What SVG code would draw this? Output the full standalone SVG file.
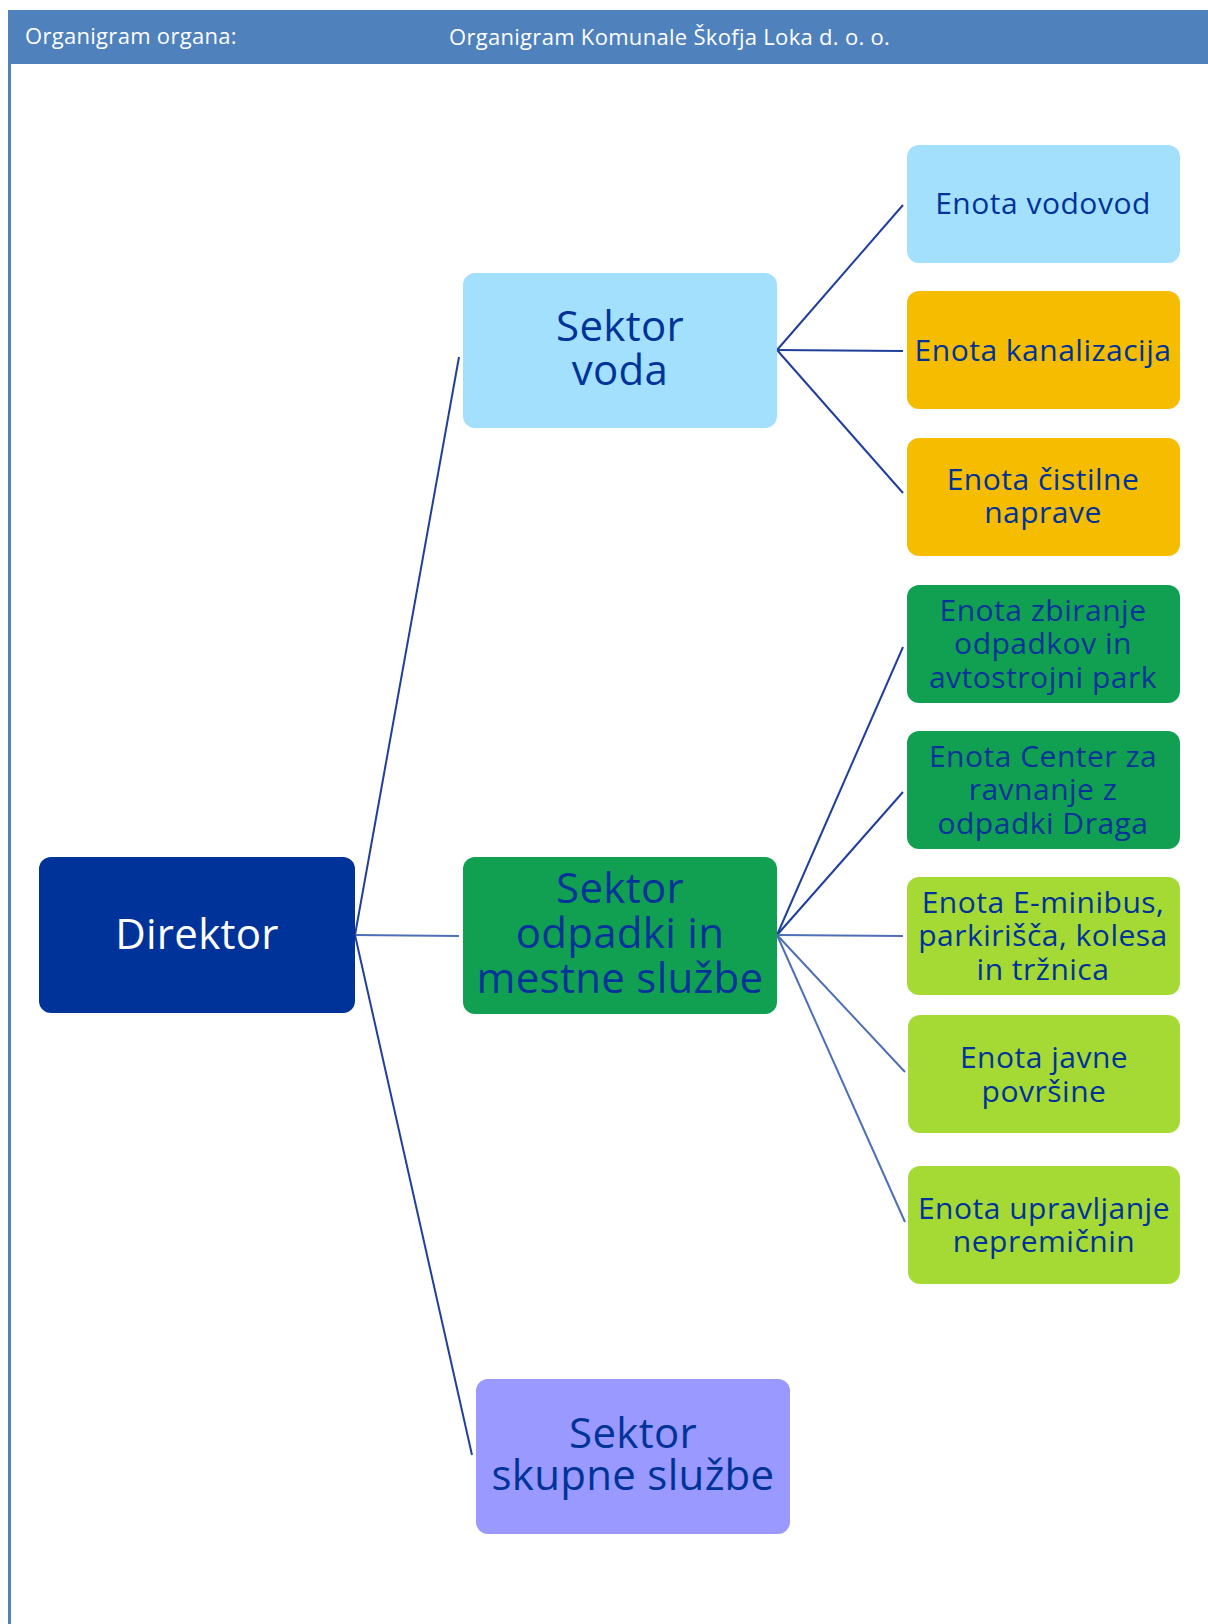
<svg xmlns="http://www.w3.org/2000/svg" width="1208" height="1624" viewBox="0 0 1208 1624">
<style>
.hdr{font-family:"Open Sans","Noto Sans",sans-serif;font-size:22px;letter-spacing:0.3px;fill:#ffffff}
.t{font-family:"Open Sans","Noto Sans",sans-serif;fill:#003399;text-anchor:middle;font-weight:500}
.big{font-size:42px;letter-spacing:0.3px}
.sm{font-size:30px;letter-spacing:0.5px}
.box{rx:12;ry:12}
.ln{fill:none;stroke:#1f3f9a;stroke-width:2}
.lt{fill:none;stroke:#4e6fb5;stroke-width:2}
</style>
<rect x="0" y="0" width="1208" height="1624" fill="#ffffff"/>
<rect x="8" y="10" width="1200" height="54" fill="#4f81bd"/>
<rect x="8" y="64" width="3" height="1560" fill="#4f81bd"/>
<text class="hdr" x="25" y="44">Organigram organa:</text>
<text class="hdr" x="449" y="45">Organigram Komunale Škofja Loka d. o. o.</text>

<g id="connectors">
<line class="ln" x1="355" y1="935" x2="459" y2="357"/>
<line class="lt" x1="355" y1="935" x2="459" y2="936"/>
<line class="ln" x1="355" y1="935" x2="472" y2="1455"/>
<line class="ln" x1="777" y1="350" x2="903" y2="205"/>
<line class="ln" x1="777" y1="350" x2="903" y2="351"/>
<line class="ln" x1="777" y1="350" x2="903" y2="493"/>
<line class="ln" x1="777" y1="935" x2="903" y2="647"/>
<line class="ln" x1="777" y1="935" x2="903" y2="792"/>
<line class="lt" x1="777" y1="935" x2="903" y2="936"/>
<line class="lt" x1="777" y1="935" x2="905" y2="1072"/>
<line class="lt" x1="777" y1="935" x2="905" y2="1222"/>
</g>

<g id="direktor">
<rect class="box" x="39" y="857" width="316" height="156" fill="#003399"/>
<text class="t big" x="197" y="949" style="fill:#ffffff">Direktor</text>
</g>

<g id="sektor-voda">
<rect class="box" x="463" y="273" width="314" height="155" fill="#a3e0fe"/>
<text class="t big" x="620" y="341">Sektor</text>
<text class="t big" x="620" y="385">voda</text>
</g>

<g id="sektor-odpadki">
<rect class="box" x="463" y="857" width="314" height="157" fill="#11a052"/>
<text class="t big" x="620" y="903">Sektor</text>
<text class="t big" x="620" y="948">odpadki in</text>
<text class="t big" x="620" y="993">mestne službe</text>
</g>

<g id="sektor-skupne">
<rect class="box" x="476" y="1379" width="314" height="155" fill="#9999ff"/>
<text class="t big" x="633" y="1448">Sektor</text>
<text class="t big" x="633" y="1490">skupne službe</text>
</g>

<g id="enota-vodovod">
<rect class="box" x="907" y="145" width="273" height="118" fill="#a3e0fe"/>
<text class="t sm" x="1043" y="214">Enota vodovod</text>
</g>

<g id="enota-kanalizacija">
<rect class="box" x="907" y="291" width="273" height="118" fill="#f5bc00"/>
<text class="t sm" x="1043" y="361">Enota kanalizacija</text>
</g>

<g id="enota-cistilne">
<rect class="box" x="907" y="438" width="273" height="118" fill="#f5bc00"/>
<text class="t sm" x="1043" y="490">Enota čistilne</text>
<text class="t sm" x="1043" y="523">naprave</text>
</g>

<g id="enota-zbiranje">
<rect class="box" x="907" y="585" width="273" height="118" fill="#11a052"/>
<text class="t sm" x="1043" y="621">Enota zbiranje</text>
<text class="t sm" x="1043" y="654">odpadkov in</text>
<text class="t sm" x="1043" y="688">avtostrojni park</text>
</g>

<g id="enota-center">
<rect class="box" x="907" y="731" width="273" height="118" fill="#11a052"/>
<text class="t sm" x="1043" y="767">Enota Center za</text>
<text class="t sm" x="1043" y="800">ravnanje z</text>
<text class="t sm" x="1043" y="834">odpadki Draga</text>
</g>

<g id="enota-eminibus">
<rect class="box" x="907" y="877" width="273" height="118" fill="#a5d933"/>
<text class="t sm" x="1043" y="913">Enota E-minibus,</text>
<text class="t sm" x="1043" y="946">parkirišča, kolesa</text>
<text class="t sm" x="1043" y="980">in tržnica</text>
</g>

<g id="enota-javne">
<rect class="box" x="908" y="1015" width="272" height="118" fill="#a5d933"/>
<text class="t sm" x="1044" y="1068">Enota javne</text>
<text class="t sm" x="1044" y="1102">površine</text>
</g>

<g id="enota-upravljanje">
<rect class="box" x="908" y="1166" width="272" height="118" fill="#a5d933"/>
<text class="t sm" x="1044" y="1219">Enota upravljanje</text>
<text class="t sm" x="1044" y="1252">nepremičnin</text>
</g>
</svg>
